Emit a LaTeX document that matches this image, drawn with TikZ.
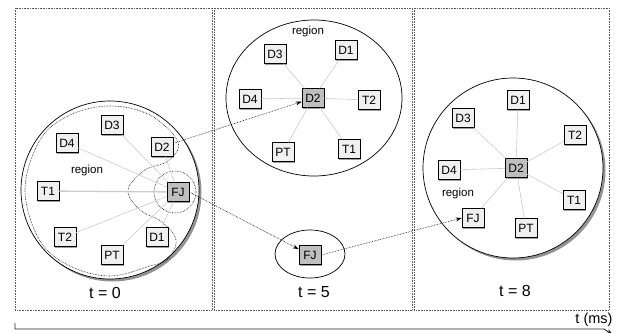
\documentclass[tikz,border=0pt]{standalone}
\usepackage{fontspec}
\setmainfont{Liberation Sans}
\usetikzlibrary{arrows.meta,shadows}

\begin{document}
\begin{tikzpicture}[
  x=1pt, y=-1pt,
  host/.style={
    draw,
    line width=0.5pt,
    fill=gray!12,
    minimum width=22pt,
    minimum height=19pt,
    inner sep=1pt,
    font=\fontsize{12}{13}\selectfont,
    drop shadow={shadow xshift=1.3pt, shadow yshift=-1.3pt, fill=gray!75, opacity=1}
  },
  leader/.style={host, fill=gray!50},
  link/.style={gray!40, line width=0.6pt},
  move/.style={-{Stealth[length=6pt,width=4pt]}, densely dotted, line width=0.6pt},
  panel/.style={densely dotted, gray!70!black, line width=0.6pt},
  zone/.style={draw, fill=white, line width=0.7pt},
  shadowed/.style={drop shadow={shadow xshift=2.5pt, shadow yshift=-2.5pt, fill=gray!85, opacity=1}},
  tlabel/.style={font=\fontsize{16}{18}\selectfont},
  note/.style={font=\fontsize{11.5}{12}\selectfont}
]
  \useasboundingbox (0,0) rectangle (623,332);

  % time frames
  \draw[panel] (15,8) rectangle (212,310);
  \draw[panel] (214,8) rectangle (412,310);
  \draw[panel] (414,8) rectangle (609,310);

  % t = 0
  \coordinate (cA) at (110,190);
  \draw[zone, shadowed] (cA) circle[radius=89pt];
  \draw[densely dotted, line width=0.6pt] plot[smooth cycle, tension=0.6] coordinates {
    (110,106) (150,115) (178,142) (168,161) (145,170) (128,190) (140,210)
    (162,222) (176,240) (168,259) (150,266) (110,276) (70,266) (40,241)
    (25,190) (40,140) (70,115)};
  \node[note] (regionA) at (87,171) {region};

  \node[host] (d3a) at (112,125) {D3};
  \node[host] (d4a) at (67,143) {D4};
  \node[host] (d2a) at (162,147) {D2};
  \node[host] (t1a) at (48,191) {T1};
  \node[leader] (fja) at (178,192) {FJ};
  \node[host] (t2a) at (65,237) {T2};
  \node[host] (pta) at (112,255) {PT};
  \node[host] (d1a) at (157,237) {D1};
  \draw[densely dotted, line width=0.6pt] (fja.center) ++(-3,0) circle[radius=21pt];

  \draw[link] (fja) -- (d3a);
  \draw[link] (fja) -- (d4a);
  \draw[link] (fja) -- (d2a);
  \draw[link, line width=1.3pt] (fja) -- (t1a);
  \draw[link] (fja) -- (t2a);
  \draw[link] (fja) -- (pta);
  \draw[link] (fja) -- (d1a);

  % t = 5
  \coordinate (cB) at (314,98);
  \draw[zone] (cB) ellipse[x radius=88pt, y radius=78pt];
  \node[note] (regionB) at (308,32) {region};

  \node[host] (d3b) at (275,54) {D3};
  \node[host] (d1b) at (346,50) {D1};
  \node[host] (d4b) at (250,99) {D4};
  \node[leader] (d2b) at (313,98) {D2};
  \node[host] (t2b) at (369,100) {T2};
  \node[host] (ptb) at (283,152) {PT};
  \node[host] (t1b) at (349,149) {T1};

  \draw[link] (d2b) -- (d3b);
  \draw[link] (d2b) -- (d1b);
  \draw[link] (d2b) -- (d4b);
  \draw[link] (d2b) -- (t2b);
  \draw[link] (d2b) -- (ptb);
  \draw[link] (d2b) -- (t1b);

  \coordinate (cFJ) at (310,254);
  \draw[zone] (cFJ) ellipse[x radius=35pt, y radius=24pt];
  \node[leader] (fjb) at (310,255) {FJ};

  % t = 8
  \coordinate (cC) at (513,168);
  \draw[zone, shadowed] (cC) circle[radius=90pt];
  \node[note] (regionC) at (458,194) {region};

  \node[host] (d1c) at (518,100) {D1};
  \node[host] (d3c) at (463,118) {D3};
  \node[host] (t2c) at (575,135) {T2};
  \node[host] (d4c) at (449,170) {D4};
  \node[leader] (d2c) at (516,168) {D2};
  \node[host] (t1c) at (574,200) {T1};
  \node[host] (fjc) at (473,218) {FJ};
  \node[host] (ptc) at (526,228) {PT};

  \draw[link] (d2c) -- (d1c);
  \draw[link] (d2c) -- (d3c);
  \draw[link] (d2c) -- (t2c);
  \draw[link] (d2c) -- (d4c);
  \draw[link] (d2c) -- (t1c);
  \draw[link] (d2c) -- (fjc);
  \draw[link] (d2c) -- (ptc);

  % moves between frames
  \draw[move] (d2a) -- (d2b);
  \draw[move] (fja.east) -- (fjb);
  \draw[move] (fjb.east) -- (fjc.west);

  \node[tlabel] (tzero) at (105,293) {t = 0};
  \node[tlabel] (tfive) at (314,292) {t = 5};
  \node[tlabel] (teight) at (515,291) {t = 8};

  % time axis
  \coordinate (ax0) at (15,323);
  \coordinate (ax1) at (15,329);
  \coordinate (ax2) at (604,329);
  \coordinate (ax3) at (613,335);
  \draw[gray!30!black, line width=0.9pt, -{Stealth[length=7pt,width=5pt]}]
    (ax0) -- (ax1) -- (ax2) -- (ax3);
  \node[font=\fontsize{14.5}{16}\selectfont] (tms) at (594,320) {t (ms)};
\end{tikzpicture}
\end{document}
